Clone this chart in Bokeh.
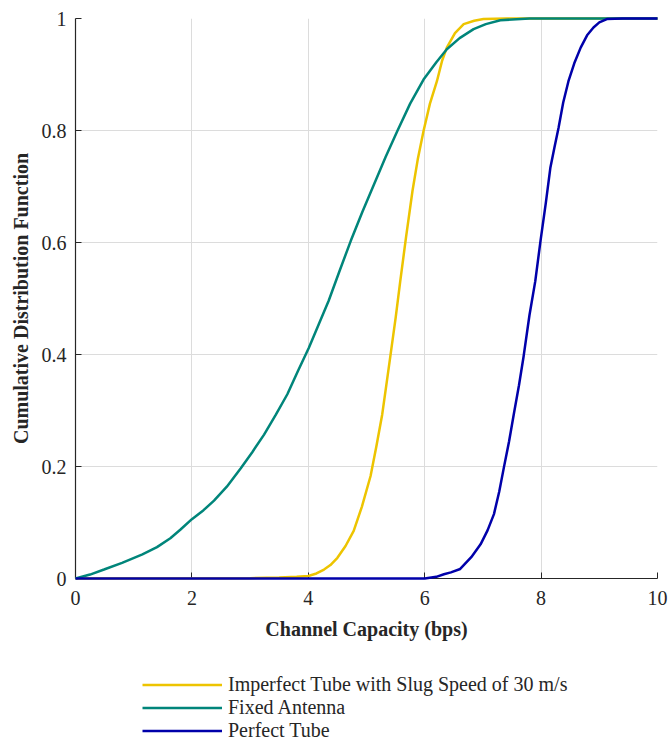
from bokeh.plotting import figure
from bokeh.layouts import column
from bokeh.models import Range1d, Legend, LegendItem, FixedTicker
from bokeh.embed import file_html
from bokeh.resources import INLINE

# Data
imperfect_x = [0, 3.0, 3.5, 3.8, 4.0, 4.14, 4.27, 4.38, 4.50, 4.64, 4.78, 4.92, 5.07, 5.17, 5.27, 5.34, 5.41,
               5.50, 5.58, 5.68, 5.79, 5.88, 5.98, 6.09, 6.21, 6.30, 6.38, 6.52, 6.67, 6.85, 7.01, 7.4, 10]
imperfect_y = [0, 0.0005, 0.002, 0.003, 0.0045, 0.009, 0.016, 0.024, 0.037, 0.058, 0.085, 0.128, 0.183, 0.236,
               0.293, 0.345, 0.397, 0.465, 0.531, 0.610, 0.692, 0.748, 0.799, 0.848, 0.888, 0.925, 0.948,
               0.974, 0.990, 0.996, 0.999, 1.0, 1.0]

fixed_x = [0, 0.25, 0.49, 0.8, 1.15, 1.4, 1.63, 1.8, 2.0, 2.2, 2.38, 2.6, 2.84, 3.04, 3.24, 3.44, 3.64, 3.82, 4.01,
           4.18, 4.35, 4.54, 4.73, 4.93, 5.13, 5.33, 5.53, 5.75, 5.98, 6.2, 6.38, 6.6, 6.84, 7.05, 7.3, 7.8, 10]
fixed_y = [0, 0.007, 0.016, 0.028, 0.043, 0.056, 0.072, 0.087, 0.106, 0.122, 0.139, 0.164, 0.197, 0.226, 0.257,
           0.292, 0.329, 0.370, 0.412, 0.454, 0.496, 0.550, 0.603, 0.655, 0.704, 0.753, 0.799, 0.848, 0.891,
           0.922, 0.945, 0.965, 0.981, 0.990, 0.997, 1.0, 1.0]

perfect_x = [0, 6.0, 6.2, 6.33, 6.45, 6.61, 6.8, 6.96, 7.08, 7.19, 7.28, 7.36, 7.45, 7.53, 7.62, 7.70, 7.80,
             7.90, 7.99, 8.08, 8.16, 8.23, 8.30, 8.38, 8.47, 8.57, 8.68, 8.79, 8.90, 9.0, 9.13, 9.4, 10]
perfect_y = [0, 0.0, 0.003, 0.0075, 0.011, 0.017, 0.038, 0.061, 0.086, 0.115, 0.155, 0.198, 0.245, 0.293, 0.345,
             0.397, 0.470, 0.531, 0.603, 0.670, 0.734, 0.770, 0.805, 0.850, 0.888, 0.920, 0.948, 0.970,
             0.984, 0.993, 0.999, 1.0, 1.0]

x_ticks = [0, 2, 4, 6, 8, 10]
y_ticks = [0, 0.2, 0.4, 0.6, 0.8, 1]

labels = ["Imperfect Tube with Slug Speed of 30 m/s", "Fixed Antenna", "Perfect Tube"]
colors = ["#EDC400", "#00857A", "#0000AA"]
series = [(imperfect_x, imperfect_y), (fixed_x, fixed_y), (perfect_x, perfect_y)]

FONT = "Liberation Serif"
DARK = "#262626"

p = figure(width=670, height=660, output_backend="svg", toolbar_location=None,
           title=None, x_range=Range1d(0, 10), y_range=Range1d(0, 1),
           min_border_left=75, min_border_right=13, min_border_top=18, min_border_bottom=82)
p.outline_line_color = None
p.background_fill_color = "white"
p.border_fill_color = "white"

for ax in (p.xaxis[0], p.yaxis[0]):
    ax.major_label_text_font = FONT
    ax.major_label_text_font_size = "20px"
    ax.major_label_text_color = DARK
    ax.axis_label_text_font = FONT
    ax.axis_label_text_font_size = "20px"
    ax.axis_label_text_font_style = "bold"
    ax.axis_label_text_color = DARK
    ax.axis_line_color = DARK
    ax.axis_line_width = 1.2
    ax.major_tick_line_color = DARK
    ax.major_tick_in = 6
    ax.major_tick_out = 0
    ax.minor_tick_line_color = None

p.xaxis[0].ticker = FixedTicker(ticks=x_ticks)
p.yaxis[0].ticker = FixedTicker(ticks=y_ticks)
p.xaxis[0].axis_label = "Channel Capacity (bps)"
p.yaxis[0].axis_label = "Cumulative Distribution Function"
p.xaxis[0].major_label_standoff = 12
p.yaxis[0].major_label_standoff = 9
p.xaxis[0].axis_label_standoff = 10
p.yaxis[0].axis_label_standoff = 7

p.xgrid.grid_line_color = "#dcdcdc"
p.ygrid.grid_line_color = "#dcdcdc"
p.xgrid.ticker = FixedTicker(ticks=x_ticks)
p.ygrid.ticker = FixedTicker(ticks=y_ticks)

for (xs, ys), c in zip(series, colors):
    p.line(xs, ys, line_color=c, line_width=2.5, level="overlay")

# Legend strip below the plot (same series, range set so that only the legend keys show)
lg = figure(width=670, height=88, output_backend="svg", toolbar_location=None, title=None,
            x_range=Range1d(0, 10), y_range=Range1d(2, 3), x_axis_location=None, y_axis_location=None,
            min_border_left=0, min_border_right=0, min_border_top=0, min_border_bottom=0)
lg.outline_line_color = None
lg.xgrid.visible = False
lg.ygrid.visible = False
keys = [lg.line(xs, ys, line_color=c, line_width=2.5) for (xs, ys), c in zip(series, colors)]

legend = Legend(items=[LegendItem(label=lab, renderers=[r]) for lab, r in zip(labels, keys)],
                location=(67, 6.5))
legend.margin = 0
legend.padding = 0
legend.spacing = 0
legend.border_line_color = None
legend.background_fill_alpha = 0
legend.glyph_width = 80
legend.glyph_height = 23
legend.label_height = 23
legend.label_standoff = 6
legend.label_text_font = FONT
legend.label_text_font_size = "20px"
legend.label_text_color = DARK
lg.add_layout(legend, "center")

layout = column(p, lg, spacing=0)
open("out.html", "w").write(file_html(layout, INLINE))
